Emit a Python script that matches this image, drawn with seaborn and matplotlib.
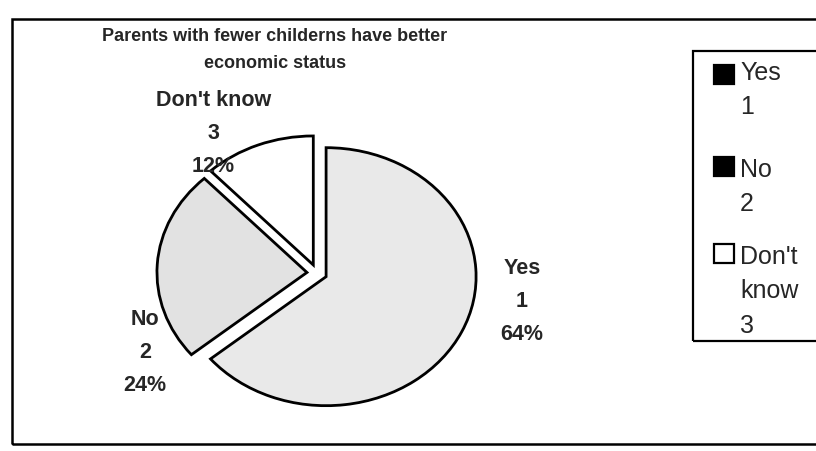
import matplotlib
matplotlib.use("Agg")
import matplotlib.pyplot as plt
import seaborn as sns
from matplotlib.patches import Rectangle

# ---- data ----
categories = ["Yes", "No", "Don't know"]
codes = [1, 2, 3]
percentages = [64, 24, 12]
title_lines = ["Parents with fewer childerns have better", "economic status"]

# ---- style ----
sns.set_theme(style="white")
plt.rcParams['font.family'] = ['Liberation Sans', 'DejaVu Sans']
slice_colors = ["#e9e9e9", "#e2e2e2", "#ffffff"]
legend_colors = ["#000000", "#000000", "#ffffff"]

W, H = 816, 452
fig = plt.figure(figsize=(W / 100, H / 100), dpi=100)
fig.patch.set_facecolor("white")


def fx(px):
    return px / W


def fy(py):
    return 1 - py / H


# outer frame (extends past the right edge, as in the scan)
fig.patches.append(Rectangle((fx(12), fy(445)), fx(900) - fx(12), fy(20) - fy(445),
                             transform=fig.transFigure, fill=False, lw=1.8, ec="black"))

# pie axes: centre at (317, 274) px, rx=150 px, ry=129 px
cx, cy, rx, ry = 317, 274, 150, 129
x0, x1, y0, y1 = -1.6, 1.6, -1.3, 1.75
ax = fig.add_axes([fx(cx + x0 * rx), fy(cy - y0 * ry), (x1 - x0) * rx / W, (y1 - y0) * ry / H])
ax.pie(percentages, explode=[0.067] * len(percentages), startangle=90, counterclock=False,
       colors=slice_colors, wedgeprops=dict(edgecolor="black", linewidth=2.0))
ax.set_aspect("auto")
ax.set_xlim(x0, x1)
ax.set_ylim(y0, y1)
ax.axis("off")

# data labels
label_pos = [(1.367, -0.215), (-1.147, -0.605), (-0.69, 1.086)]
for cat, code, pct, (lx, ly) in zip(categories, codes, percentages, label_pos):
    ax.text(lx, ly, f"{cat}\n{code}\n{pct}%", ha="center", va="center",
            fontsize=15.5, fontweight="bold", linespacing=1.75)

# title
fig.text(fx(275), fy(50), "\n".join(title_lines), ha="center", va="center",
         fontsize=13, fontweight="bold", linespacing=1.72)

# legend box
fig.patches.append(Rectangle((fx(693), fy(342)), fx(900) - fx(693), fy(52) - fy(342),
                             transform=fig.transFigure, fill=False, lw=1.6, ec="black"))
legend_tops = [61, 158, 245]
square_tops = [66, 158, 245]
for cat, code, col, ty, sy in zip(categories, codes, legend_colors, legend_tops, square_tops):
    fig.patches.append(Rectangle((fx(714), fy(sy + 19)), 20 / W, 19 / H,
                                 transform=fig.transFigure, fc=col, ec="black", lw=1.6))
    fig.text(fx(740), fy(ty), cat.replace(" ", "\n") + f"\n{code}", ha="left", va="top",
             fontsize=18, linespacing=1.55)

fig.savefig("out.png", dpi=100)
